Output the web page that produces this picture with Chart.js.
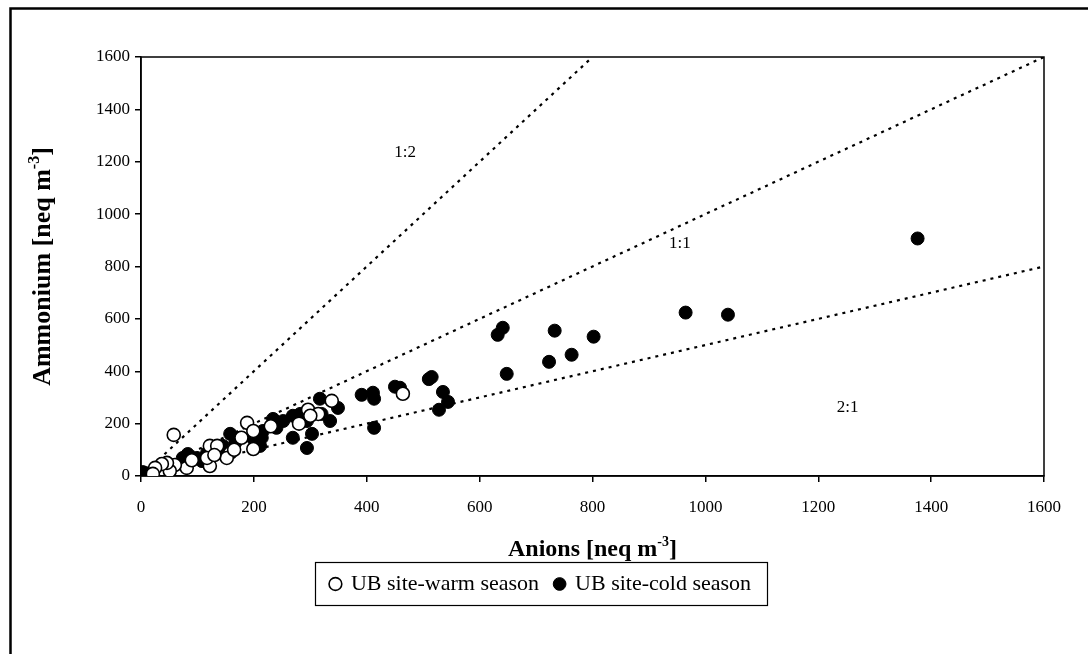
<!DOCTYPE html>
<html>
<head>
<meta charset="utf-8">
<script src="https://cdn.jsdelivr.net/npm/chart.js@4/dist/chart.umd.min.js"></script>
<style>
  html, body { margin: 0; padding: 0; background: #fff; }
</style>
</head>
<body>
<canvas id="ammoniumChart" width="1088" height="654"></canvas>
<script>
// Anions vs ammonium [neq m-3]
const warmAnions = [58, 188, 199, 199, 178, 158, 152, 122, 122, 117, 81, 60, 51, 46, 37, 25, 21,
  296, 338, 314, 464, 135, 90, 130, 165, 230, 280, 300];
const warmAmmonium = [157, 203, 172, 103, 146, 88, 69, 115, 38, 69, 31, 42, 19, 50, 46, 31, 8,
  253, 287, 237, 314, 115, 60, 80, 100, 190, 200, 230];

const coldAnions = [1376, 965, 1040, 641, 632, 733, 802, 723, 763, 648, 510, 515, 535, 544, 528,
  413, 450, 459, 411, 413, 391, 349, 335, 303, 317, 320, 294, 282, 294, 269, 269, 285, 252, 234,
  240, 216, 214, 199, 158, 167, 145, 135, 117, 99, 83, 74, 108, 7, 16, 3, 175, 211, 140];
const coldAmmonium = [907, 624, 616, 566, 539, 555, 532, 436, 463, 390, 370, 378, 321, 283, 253,
  184, 341, 337, 318, 295, 310, 260, 210, 161, 295, 237, 210, 237, 107, 146, 230, 226, 210, 218,
  184, 172, 146, 142, 161, 126, 115, 103, 88, 69, 84, 69, 57, 11, 11, 15, 146, 115, 88];

// reference ratio lines (ammonium = slope * anions)
const ratioNames = ['1:2', '1:1', '2:1'];
const ratioSlopes = [2, 1, 0.5];
const ratioLabelX = [468, 955, 1252];
const ratioLabelY = [1236, 888, 260];

const axisMax = 1600;
const axisStep = 200;

const serif = '"Liberation Serif", "Times New Roman", serif';

const toPoints = (xs, ys) => xs.map((x, i) => ({ x: x, y: ys[i] }));

const lineSets = ratioSlopes.map((k, i) => {
  const xEnd = Math.min(axisMax, axisMax / k);
  return {
    label: ratioNames[i],
    data: [{ x: 0, y: 0 }, { x: xEnd, y: xEnd * k }],
    showLine: true,
    borderColor: '#000',
    borderWidth: 2.2,
    borderDash: [3, 5],
    pointRadius: 0,
    fill: false,
    order: 3,
  };
});

// draws a label with a "-3" superscript part
function drawSupText(ctx, before, sup, after, size) {
  const bigFont = 'bold ' + size + 'px ' + serif;
  const smallFont = 'bold ' + Math.round(size * 0.6) + 'px ' + serif;
  ctx.font = bigFont;
  const w1 = ctx.measureText(before).width;
  const w3 = ctx.measureText(after).width;
  ctx.font = smallFont;
  const w2 = ctx.measureText(sup).width;
  let x = -(w1 + w2 + w3) / 2;
  ctx.textAlign = 'left';
  ctx.textBaseline = 'alphabetic';
  ctx.font = bigFont;
  ctx.fillText(before, x, 0);
  x += w1;
  ctx.font = smallFont;
  ctx.fillText(sup, x, -size * 0.42);
  x += w2;
  ctx.font = bigFont;
  ctx.fillText(after, x, 0);
}

const framePlugin = {
  id: 'frame',
  beforeDraw(chart) {
    const ctx = chart.ctx;
    ctx.save();
    ctx.fillStyle = '#fff';
    ctx.fillRect(0, 0, chart.width, chart.height);
    ctx.strokeStyle = '#000';
    ctx.lineWidth = 2.5;
    ctx.beginPath();
    ctx.moveTo(10.5, chart.height);
    ctx.lineTo(10.5, 8.5);
    ctx.lineTo(chart.width, 8.5);
    ctx.stroke();
    ctx.restore();
  },
  beforeDatasetsDraw(chart) {
    const { ctx, chartArea: a } = chart;
    ctx.save();
    ctx.strokeStyle = '#000';
    ctx.lineWidth = 1.5;
    ctx.strokeRect(a.left, a.top, a.right - a.left, a.bottom - a.top);
    ctx.restore();
  },
  afterDraw(chart) {
    const { ctx, chartArea: a, scales } = chart;
    ctx.save();
    ctx.fillStyle = '#000';

    // axis titles
    ctx.save();
    ctx.translate((a.left + a.right) / 2, 556);
    drawSupText(ctx, 'Anions [neq m', '-3', ']', 24);
    ctx.restore();

    ctx.save();
    ctx.translate(50, (a.top + a.bottom) / 2);
    ctx.rotate(-Math.PI / 2);
    drawSupText(ctx, 'Ammonium [neq m', '-3', ']', 26);
    ctx.restore();

    // ratio line labels
    ctx.font = '17px ' + serif;
    ctx.textAlign = 'center';
    ctx.textBaseline = 'middle';
    ratioNames.forEach((name, i) => {
      ctx.fillText(name, scales.x.getPixelForValue(ratioLabelX[i]), scales.y.getPixelForValue(ratioLabelY[i]));
    });

    // box round the legend
    const boxes = chart.legend.legendHitBoxes;
    if (boxes && boxes.length) {
      const left = Math.min(...boxes.map(b => b.left));
      const right = Math.max(...boxes.map(b => b.left + b.width));
      const mid = boxes[0].top + boxes[0].height / 2;
      ctx.strokeStyle = '#000';
      ctx.lineWidth = 1.2;
      ctx.strokeRect(Math.round(left - 16) + 0.5, Math.round(mid - 22) + 0.5, Math.round(right - left + 32), 43);
    }
    ctx.restore();
  },
};

const axisCommon = {
  type: 'linear',
  min: 0,
  max: axisMax,
  ticks: {
    stepSize: axisStep,
    color: '#000',
    font: { family: serif, size: 17 },
    callback: (v) => String(v),
  },
  grid: { drawOnChartArea: false, drawTicks: true, tickLength: 6, color: '#000', lineWidth: 1.5 },
  border: { color: '#000', width: 1.5 },
};

const ctx = document.getElementById('ammoniumChart').getContext('2d');
const ammoniumChart = new Chart(ctx, {
  type: 'scatter',
  data: {
    datasets: [
      {
        label: 'UB site-warm season',
        data: toPoints(warmAnions, warmAmmonium),
        pointRadius: 6.5,
        pointBackgroundColor: '#fff',
        backgroundColor: '#fff',
        borderColor: '#000',
        borderWidth: 1.6,
        order: 1,
      },
      {
        label: 'UB site-cold season',
        data: toPoints(coldAnions, coldAmmonium),
        pointRadius: 6.5,
        pointBackgroundColor: '#000',
        backgroundColor: '#000',
        borderColor: '#000',
        borderWidth: 1,
        order: 2,
      },
      ...lineSets,
    ],
  },
  options: {
    responsive: false,
    animation: false,
    devicePixelRatio: 1,
    layout: { padding: { left: 38, right: 44, top: 57, bottom: 49 } },
    scales: {
      x: Object.assign({}, axisCommon, {
        ticks: Object.assign({}, axisCommon.ticks, { padding: 15, maxRotation: 0 }),
        afterFit(scale) { scale.height = 81; },
      }),
      y: Object.assign({}, axisCommon, {
        ticks: Object.assign({}, axisCommon.ticks, { padding: 5 }),
        afterFit(scale) { scale.width = 103; },
      }),
    },
    plugins: {
      tooltip: { enabled: false },
      legend: {
        position: 'bottom',
        labels: {
          usePointStyle: true,
          boxWidth: 9,
          boxHeight: 9,
          padding: 16,
          color: '#000',
          font: { family: serif, size: 22 },
          filter: (item) => item.datasetIndex < 2,
        },
      },
    },
  },
  plugins: [framePlugin],
});
</script>
</body>
</html>
